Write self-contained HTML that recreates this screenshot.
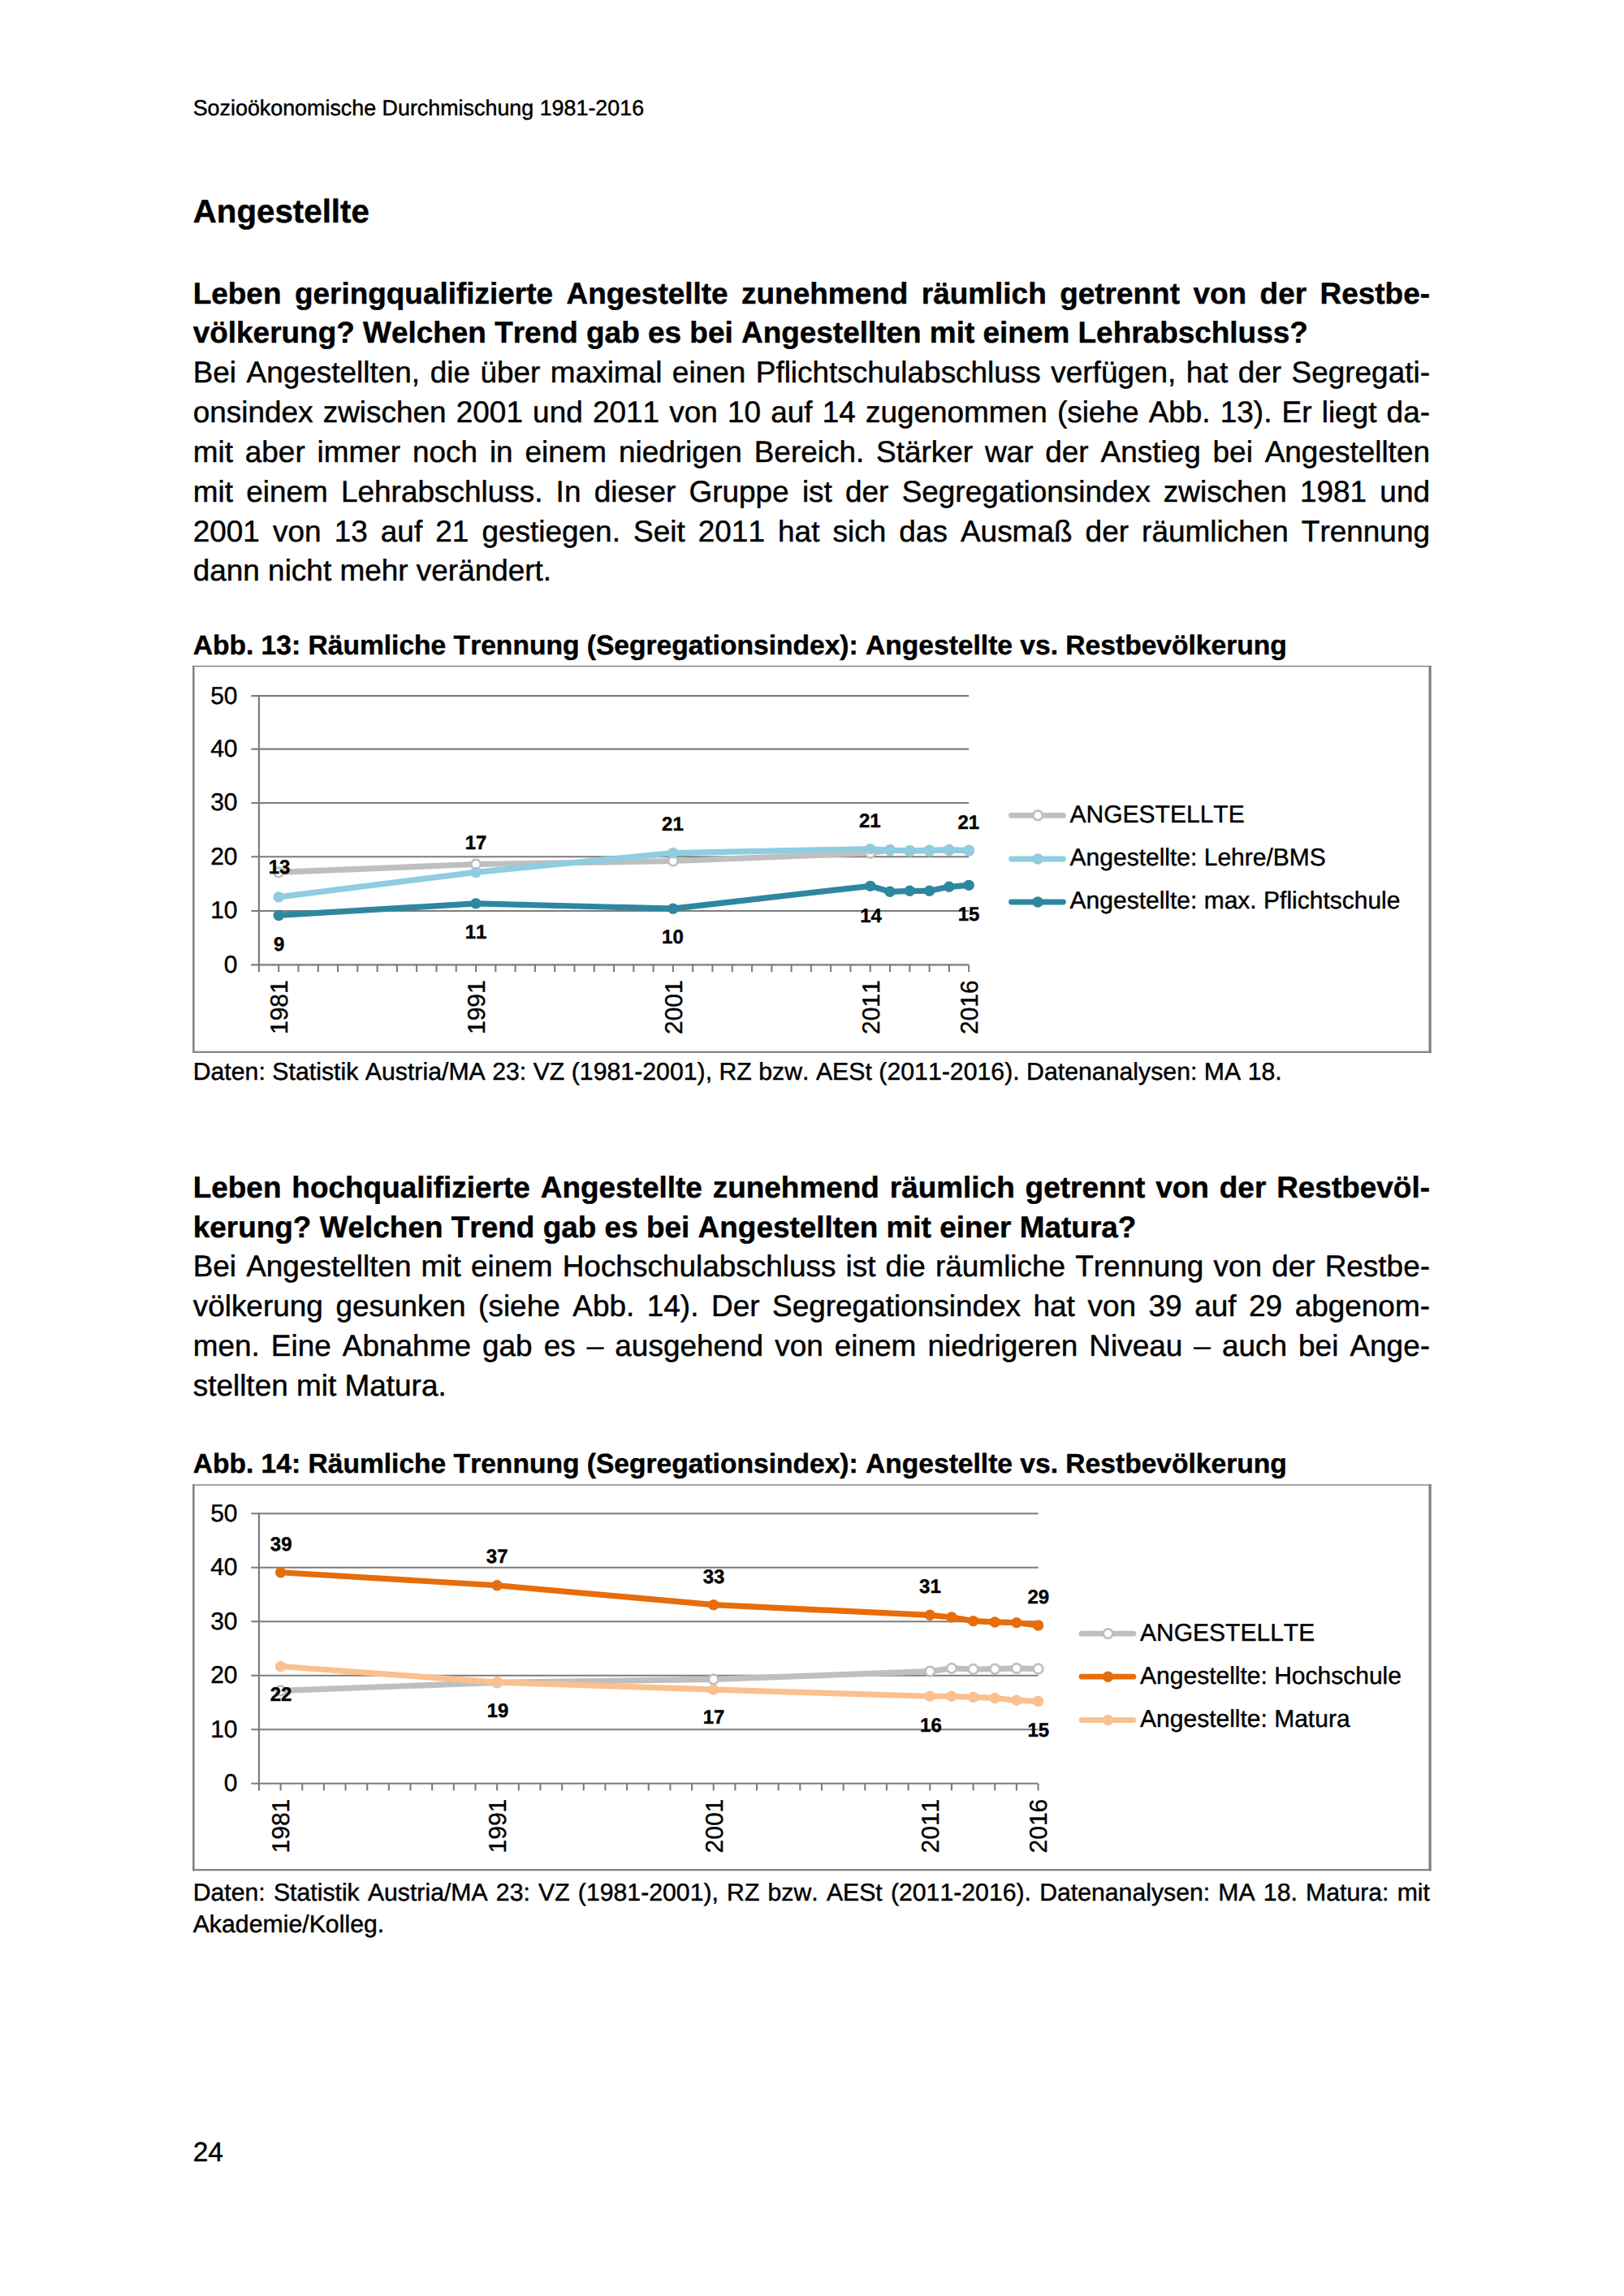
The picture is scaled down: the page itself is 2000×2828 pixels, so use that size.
<!DOCTYPE html>
<html lang="de"><head><meta charset="utf-8"><title>Sozioökonomische Durchmischung 1981-2016</title>
<style>
html,body{margin:0;padding:0;background:#fff;}
body{width:2000px;height:2828px;position:relative;overflow:hidden;
 font-family:"Liberation Sans",sans-serif;color:#000;font-kerning:none;font-variant-ligatures:none;text-rendering:geometricPrecision;-webkit-text-stroke:0.45px #000;}
header,main,section,figure,figcaption,footer,h1,h2,p{margin:0;padding:0;font-size:0;font-weight:normal;}
.l{display:block;position:absolute;left:237.70px;width:1523.30px;white-space:nowrap;margin:0;}
.j{text-align:justify;text-align-last:justify;white-space:normal;}
.b{font-weight:bold;}
svg{position:absolute;overflow:visible;}
svg text{font-family:"Liberation Sans",sans-serif;fill:#000;stroke:#000;stroke-width:0.4px;-webkit-text-stroke:0;font-kerning:none;font-variant-ligatures:none;}
.ax{font-size:30px;}
.dl{font-size:24px;font-weight:bold;text-anchor:middle;}
.lg{font-size:30px;}
</style></head><body>
<header><span class="l" style="top:117.000px;font-size:26.878px;line-height:32px;">Sozioökonomische Durchmischung 1981-2016</span></header>
<main>
<h1><span class="l b" style="top:237.000px;font-size:40.317px;line-height:48px;">Angestellte</span></h1>
<section>
<h2>
<span class="l b j" style="top:340.000px;font-size:36.958px;line-height:44px;">Leben geringqualifizierte Angestellte zunehmend räumlich getrennt von der Restbe-</span>
<span class="l b" style="top:388.000px;font-size:36.958px;line-height:44px;">völkerung? Welchen Trend gab es bei Angestellten mit einem Lehrabschluss?</span>
</h2>
<p>
<span class="l j" style="top:437.000px;font-size:36.958px;line-height:44px;">Bei Angestellten, die über maximal einen Pflichtschulabschluss verfügen, hat der Segregati-</span>
<span class="l j" style="top:486.000px;font-size:36.958px;line-height:44px;">onsindex zwischen 2001 und 2011 von 10 auf 14 zugenommen (siehe Abb. 13). Er liegt da-</span>
<span class="l j" style="top:535.000px;font-size:36.958px;line-height:44px;">mit aber immer noch in einem niedrigen Bereich. Stärker war der Anstieg bei Angestellten</span>
<span class="l j" style="top:584.000px;font-size:36.958px;line-height:44px;">mit einem Lehrabschluss. In dieser Gruppe ist der Segregationsindex zwischen 1981 und</span>
<span class="l j" style="top:633.000px;font-size:36.958px;line-height:44px;">2001 von 13 auf 21 gestiegen. Seit 2011 hat sich das Ausmaß der räumlichen Trennung</span>
<span class="l" style="top:681.000px;font-size:36.958px;line-height:44px;">dann nicht mehr verändert.</span>
</p>
<figure>
<figcaption><span class="l b" style="top:776.000px;font-size:33.598px;line-height:40px;">Abb. 13: Räumliche Trennung (Segregationsindex): Angestellte vs. Restbevölkerung</span></figcaption>
<svg role="img" aria-label="Abb. 13 Liniendiagramm" width="1540" height="490" viewBox="230 814 1540 490" style="left:230px;top:814px">
<rect x="237.1" y="819.90" width="1525.6" height="1.4" fill="#808080"/>
<rect x="237.1" y="819.90" width="2.5" height="477.00" fill="#808080"/>
<rect x="1759.5" y="819.90" width="3.2" height="477.00" fill="#808080"/>
<rect x="237.1" y="1294.70" width="1525.6" height="2.2" fill="#808080"/>
<line x1="309.31" y1="1188.40" x2="1193.17" y2="1188.40" stroke="#7C7C7C" stroke-width="2.1"/>
<text class="ax" x="292.5" y="1197.80" text-anchor="end">0</text>
<line x1="309.31" y1="1122.00" x2="1193.17" y2="1122.00" stroke="#7C7C7C" stroke-width="2.1"/>
<text class="ax" x="292.5" y="1131.40" text-anchor="end">10</text>
<line x1="309.31" y1="1055.20" x2="1193.17" y2="1055.20" stroke="#7C7C7C" stroke-width="2.1"/>
<text class="ax" x="292.5" y="1064.60" text-anchor="end">20</text>
<line x1="309.31" y1="989.00" x2="1193.17" y2="989.00" stroke="#7C7C7C" stroke-width="2.1"/>
<text class="ax" x="292.5" y="998.40" text-anchor="end">30</text>
<line x1="309.31" y1="922.60" x2="1193.17" y2="922.60" stroke="#7C7C7C" stroke-width="2.1"/>
<text class="ax" x="292.5" y="932.00" text-anchor="end">40</text>
<line x1="309.31" y1="857.10" x2="1193.17" y2="857.10" stroke="#7C7C7C" stroke-width="2.1"/>
<text class="ax" x="292.5" y="866.50" text-anchor="end">50</text>
<line x1="318.91" y1="856.10" x2="318.91" y2="1197.00" stroke="#7C7C7C" stroke-width="2.2"/>
<line x1="343.20" y1="1188.40" x2="343.20" y2="1197.00" stroke="#7C7C7C" stroke-width="2.1"/>
<line x1="367.49" y1="1188.40" x2="367.49" y2="1197.00" stroke="#7C7C7C" stroke-width="2.1"/>
<line x1="391.77" y1="1188.40" x2="391.77" y2="1197.00" stroke="#7C7C7C" stroke-width="2.1"/>
<line x1="416.06" y1="1188.40" x2="416.06" y2="1197.00" stroke="#7C7C7C" stroke-width="2.1"/>
<line x1="440.34" y1="1188.40" x2="440.34" y2="1197.00" stroke="#7C7C7C" stroke-width="2.1"/>
<line x1="464.62" y1="1188.40" x2="464.62" y2="1197.00" stroke="#7C7C7C" stroke-width="2.1"/>
<line x1="488.91" y1="1188.40" x2="488.91" y2="1197.00" stroke="#7C7C7C" stroke-width="2.1"/>
<line x1="513.19" y1="1188.40" x2="513.19" y2="1197.00" stroke="#7C7C7C" stroke-width="2.1"/>
<line x1="537.48" y1="1188.40" x2="537.48" y2="1197.00" stroke="#7C7C7C" stroke-width="2.1"/>
<line x1="561.76" y1="1188.40" x2="561.76" y2="1197.00" stroke="#7C7C7C" stroke-width="2.1"/>
<line x1="586.05" y1="1188.40" x2="586.05" y2="1197.00" stroke="#7C7C7C" stroke-width="2.1"/>
<line x1="610.34" y1="1188.40" x2="610.34" y2="1197.00" stroke="#7C7C7C" stroke-width="2.1"/>
<line x1="634.62" y1="1188.40" x2="634.62" y2="1197.00" stroke="#7C7C7C" stroke-width="2.1"/>
<line x1="658.90" y1="1188.40" x2="658.90" y2="1197.00" stroke="#7C7C7C" stroke-width="2.1"/>
<line x1="683.19" y1="1188.40" x2="683.19" y2="1197.00" stroke="#7C7C7C" stroke-width="2.1"/>
<line x1="707.47" y1="1188.40" x2="707.47" y2="1197.00" stroke="#7C7C7C" stroke-width="2.1"/>
<line x1="731.76" y1="1188.40" x2="731.76" y2="1197.00" stroke="#7C7C7C" stroke-width="2.1"/>
<line x1="756.05" y1="1188.40" x2="756.05" y2="1197.00" stroke="#7C7C7C" stroke-width="2.1"/>
<line x1="780.33" y1="1188.40" x2="780.33" y2="1197.00" stroke="#7C7C7C" stroke-width="2.1"/>
<line x1="804.62" y1="1188.40" x2="804.62" y2="1197.00" stroke="#7C7C7C" stroke-width="2.1"/>
<line x1="828.90" y1="1188.40" x2="828.90" y2="1197.00" stroke="#7C7C7C" stroke-width="2.1"/>
<line x1="853.18" y1="1188.40" x2="853.18" y2="1197.00" stroke="#7C7C7C" stroke-width="2.1"/>
<line x1="877.47" y1="1188.40" x2="877.47" y2="1197.00" stroke="#7C7C7C" stroke-width="2.1"/>
<line x1="901.75" y1="1188.40" x2="901.75" y2="1197.00" stroke="#7C7C7C" stroke-width="2.1"/>
<line x1="926.04" y1="1188.40" x2="926.04" y2="1197.00" stroke="#7C7C7C" stroke-width="2.1"/>
<line x1="950.33" y1="1188.40" x2="950.33" y2="1197.00" stroke="#7C7C7C" stroke-width="2.1"/>
<line x1="974.61" y1="1188.40" x2="974.61" y2="1197.00" stroke="#7C7C7C" stroke-width="2.1"/>
<line x1="998.89" y1="1188.40" x2="998.89" y2="1197.00" stroke="#7C7C7C" stroke-width="2.1"/>
<line x1="1023.18" y1="1188.40" x2="1023.18" y2="1197.00" stroke="#7C7C7C" stroke-width="2.1"/>
<line x1="1047.46" y1="1188.40" x2="1047.46" y2="1197.00" stroke="#7C7C7C" stroke-width="2.1"/>
<line x1="1071.75" y1="1188.40" x2="1071.75" y2="1197.00" stroke="#7C7C7C" stroke-width="2.1"/>
<line x1="1096.04" y1="1188.40" x2="1096.04" y2="1197.00" stroke="#7C7C7C" stroke-width="2.1"/>
<line x1="1120.32" y1="1188.40" x2="1120.32" y2="1197.00" stroke="#7C7C7C" stroke-width="2.1"/>
<line x1="1144.61" y1="1188.40" x2="1144.61" y2="1197.00" stroke="#7C7C7C" stroke-width="2.1"/>
<line x1="1168.89" y1="1188.40" x2="1168.89" y2="1197.00" stroke="#7C7C7C" stroke-width="2.1"/>
<line x1="1193.17" y1="1188.40" x2="1193.17" y2="1197.00" stroke="#7C7C7C" stroke-width="2.1"/>
<text class="ax" text-anchor="end" transform="translate(354.00 1207.30) rotate(-90)">1981</text>
<text class="ax" text-anchor="end" transform="translate(596.85 1207.30) rotate(-90)">1991</text>
<text class="ax" text-anchor="end" transform="translate(839.70 1207.30) rotate(-90)">2001</text>
<text class="ax" text-anchor="end" transform="translate(1082.55 1207.30) rotate(-90)">2011</text>
<text class="ax" text-anchor="end" transform="translate(1203.97 1207.30) rotate(-90)">2016</text>
<polyline points="343.20,1074.43 586.05,1064.49 828.90,1060.52 1071.75,1050.71 1096.04,1047.00 1120.32,1048.13 1144.61,1047.80 1168.89,1047.00 1193.17,1047.60" fill="none" stroke="#BFBFBF" stroke-width="7.2" stroke-linejoin="round" stroke-linecap="round"/>
<circle cx="343.20" cy="1074.43" r="5.8" fill="#fff" stroke="#BFBFBF" stroke-width="2.7"/>
<circle cx="586.05" cy="1064.49" r="5.8" fill="#fff" stroke="#BFBFBF" stroke-width="2.7"/>
<circle cx="828.90" cy="1060.52" r="5.8" fill="#fff" stroke="#BFBFBF" stroke-width="2.7"/>
<circle cx="1071.75" cy="1050.71" r="5.8" fill="#fff" stroke="#BFBFBF" stroke-width="2.7"/>
<circle cx="1096.04" cy="1047.00" r="5.8" fill="#fff" stroke="#BFBFBF" stroke-width="2.7"/>
<circle cx="1120.32" cy="1048.13" r="5.8" fill="#fff" stroke="#BFBFBF" stroke-width="2.7"/>
<circle cx="1144.61" cy="1047.80" r="5.8" fill="#fff" stroke="#BFBFBF" stroke-width="2.7"/>
<circle cx="1168.89" cy="1047.00" r="5.8" fill="#fff" stroke="#BFBFBF" stroke-width="2.7"/>
<circle cx="1193.17" cy="1047.60" r="5.8" fill="#fff" stroke="#BFBFBF" stroke-width="2.7"/>
<polyline points="343.20,1104.91 586.05,1074.43 828.90,1050.58 1071.75,1045.61 1096.04,1047.27 1120.32,1047.60 1144.61,1047.27 1168.89,1046.60 1193.17,1047.60" fill="none" stroke="#8FCDDF" stroke-width="7.2" stroke-linejoin="round" stroke-linecap="round"/>
<circle cx="343.20" cy="1104.91" r="6.7" fill="#8FCDDF"/>
<circle cx="586.05" cy="1074.43" r="6.7" fill="#8FCDDF"/>
<circle cx="828.90" cy="1050.58" r="6.7" fill="#8FCDDF"/>
<circle cx="1071.75" cy="1045.61" r="6.7" fill="#8FCDDF"/>
<circle cx="1096.04" cy="1047.27" r="6.7" fill="#8FCDDF"/>
<circle cx="1120.32" cy="1047.60" r="6.7" fill="#8FCDDF"/>
<circle cx="1144.61" cy="1047.27" r="6.7" fill="#8FCDDF"/>
<circle cx="1168.89" cy="1046.60" r="6.7" fill="#8FCDDF"/>
<circle cx="1193.17" cy="1047.60" r="6.7" fill="#8FCDDF"/>
<polyline points="343.20,1127.44 586.05,1112.86 828.90,1119.16 1071.75,1091.33 1096.04,1098.29 1120.32,1097.29 1144.61,1097.29 1168.89,1092.32 1193.17,1090.34" fill="none" stroke="#2E879E" stroke-width="7.2" stroke-linejoin="round" stroke-linecap="round"/>
<circle cx="343.20" cy="1127.44" r="6.7" fill="#2E879E"/>
<circle cx="586.05" cy="1112.86" r="6.7" fill="#2E879E"/>
<circle cx="828.90" cy="1119.16" r="6.7" fill="#2E879E"/>
<circle cx="1071.75" cy="1091.33" r="6.7" fill="#2E879E"/>
<circle cx="1096.04" cy="1098.29" r="6.7" fill="#2E879E"/>
<circle cx="1120.32" cy="1097.29" r="6.7" fill="#2E879E"/>
<circle cx="1144.61" cy="1097.29" r="6.7" fill="#2E879E"/>
<circle cx="1168.89" cy="1092.32" r="6.7" fill="#2E879E"/>
<circle cx="1193.17" cy="1090.34" r="6.7" fill="#2E879E"/>
<text class="dl" x="344.00" y="1076.00">13</text>
<text class="dl" x="586.00" y="1046.20">17</text>
<text class="dl" x="828.40" y="1023.00">21</text>
<text class="dl" x="1071.30" y="1018.50">21</text>
<text class="dl" x="1192.80" y="1021.00">21</text>
<text class="dl" x="343.60" y="1171.00">9</text>
<text class="dl" x="586.00" y="1156.40">11</text>
<text class="dl" x="828.40" y="1162.30">10</text>
<text class="dl" x="1072.50" y="1136.00">14</text>
<text class="dl" x="1193.00" y="1134.00">15</text>
<line x1="1245.50" y1="1004.40" x2="1309.40" y2="1004.40" stroke="#BFBFBF" stroke-width="6.8" stroke-linecap="round"/>
<circle cx="1278.10" cy="1004.40" r="5.8" fill="#fff" stroke="#BFBFBF" stroke-width="2.7"/>
<text class="lg" x="1317.60" y="1012.80">ANGESTELLTE</text>
<line x1="1245.50" y1="1058.00" x2="1309.40" y2="1058.00" stroke="#8FCDDF" stroke-width="6.8" stroke-linecap="round"/>
<circle cx="1278.10" cy="1058.00" r="6.7" fill="#8FCDDF"/>
<text class="lg" x="1317.60" y="1066.40">Angestellte: Lehre/BMS</text>
<line x1="1245.50" y1="1111.00" x2="1309.40" y2="1111.00" stroke="#2E879E" stroke-width="6.8" stroke-linecap="round"/>
<circle cx="1278.10" cy="1111.00" r="6.7" fill="#2E879E"/>
<text class="lg" x="1317.60" y="1119.40">Angestellte: max. Pflichtschule</text>
</svg>
<p class="src"><span class="l" style="top:1303.000px;font-size:30.238px;line-height:36px;letter-spacing:0.025px;">Daten: Statistik Austria/MA 23: VZ (1981-2001), RZ bzw. AESt (2011-2016). Datenanalysen: MA 18.</span></p>
</figure>
</section>
<section>
<h2>
<span class="l b j" style="top:1441.000px;font-size:36.958px;line-height:44px;">Leben hochqualifizierte Angestellte zunehmend räumlich getrennt von der Restbevöl-</span>
<span class="l b" style="top:1490.000px;font-size:36.958px;line-height:44px;">kerung? Welchen Trend gab es bei Angestellten mit einer Matura?</span>
</h2>
<p>
<span class="l j" style="top:1538.000px;font-size:36.958px;line-height:44px;">Bei Angestellten mit einem Hochschulabschluss ist die räumliche Trennung von der Restbe-</span>
<span class="l j" style="top:1587.000px;font-size:36.958px;line-height:44px;">völkerung gesunken (siehe Abb. 14). Der Segregationsindex hat von 39 auf 29 abgenom-</span>
<span class="l j" style="top:1636.000px;font-size:36.958px;line-height:44px;">men. Eine Abnahme gab es – ausgehend von einem niedrigeren Niveau – auch bei Ange-</span>
<span class="l" style="top:1685.000px;font-size:36.958px;line-height:44px;">stellten mit Matura.</span>
</p>
<figure>
<figcaption><span class="l b" style="top:1784.000px;font-size:33.598px;line-height:40px;">Abb. 14: Räumliche Trennung (Segregationsindex): Angestellte vs. Restbevölkerung</span></figcaption>
<svg role="img" aria-label="Abb. 14 Liniendiagramm" width="1540" height="490" viewBox="230 1822 1540 490" style="left:230px;top:1822px">
<rect x="237.1" y="1828.30" width="1525.6" height="1.4" fill="#808080"/>
<rect x="237.1" y="1828.30" width="2.5" height="476.00" fill="#808080"/>
<rect x="1759.5" y="1828.30" width="3.2" height="476.00" fill="#808080"/>
<rect x="237.1" y="2302.10" width="1525.6" height="2.2" fill="#808080"/>
<line x1="309.34" y1="2196.80" x2="1278.56" y2="2196.80" stroke="#7C7C7C" stroke-width="2.1"/>
<text class="ax" x="292.5" y="2206.20" text-anchor="end">0</text>
<line x1="309.34" y1="2130.30" x2="1278.56" y2="2130.30" stroke="#7C7C7C" stroke-width="2.1"/>
<text class="ax" x="292.5" y="2139.70" text-anchor="end">10</text>
<line x1="309.34" y1="2063.80" x2="1278.56" y2="2063.80" stroke="#7C7C7C" stroke-width="2.1"/>
<text class="ax" x="292.5" y="2073.20" text-anchor="end">20</text>
<line x1="309.34" y1="1997.30" x2="1278.56" y2="1997.30" stroke="#7C7C7C" stroke-width="2.1"/>
<text class="ax" x="292.5" y="2006.70" text-anchor="end">30</text>
<line x1="309.34" y1="1930.80" x2="1278.56" y2="1930.80" stroke="#7C7C7C" stroke-width="2.1"/>
<text class="ax" x="292.5" y="1940.20" text-anchor="end">40</text>
<line x1="309.34" y1="1864.30" x2="1278.56" y2="1864.30" stroke="#7C7C7C" stroke-width="2.1"/>
<text class="ax" x="292.5" y="1873.70" text-anchor="end">50</text>
<line x1="318.94" y1="1863.30" x2="318.94" y2="2205.40" stroke="#7C7C7C" stroke-width="2.2"/>
<line x1="345.60" y1="2196.80" x2="345.60" y2="2205.40" stroke="#7C7C7C" stroke-width="2.1"/>
<line x1="372.26" y1="2196.80" x2="372.26" y2="2205.40" stroke="#7C7C7C" stroke-width="2.1"/>
<line x1="398.91" y1="2196.80" x2="398.91" y2="2205.40" stroke="#7C7C7C" stroke-width="2.1"/>
<line x1="425.57" y1="2196.80" x2="425.57" y2="2205.40" stroke="#7C7C7C" stroke-width="2.1"/>
<line x1="452.22" y1="2196.80" x2="452.22" y2="2205.40" stroke="#7C7C7C" stroke-width="2.1"/>
<line x1="478.88" y1="2196.80" x2="478.88" y2="2205.40" stroke="#7C7C7C" stroke-width="2.1"/>
<line x1="505.54" y1="2196.80" x2="505.54" y2="2205.40" stroke="#7C7C7C" stroke-width="2.1"/>
<line x1="532.19" y1="2196.80" x2="532.19" y2="2205.40" stroke="#7C7C7C" stroke-width="2.1"/>
<line x1="558.85" y1="2196.80" x2="558.85" y2="2205.40" stroke="#7C7C7C" stroke-width="2.1"/>
<line x1="585.50" y1="2196.80" x2="585.50" y2="2205.40" stroke="#7C7C7C" stroke-width="2.1"/>
<line x1="612.16" y1="2196.80" x2="612.16" y2="2205.40" stroke="#7C7C7C" stroke-width="2.1"/>
<line x1="638.82" y1="2196.80" x2="638.82" y2="2205.40" stroke="#7C7C7C" stroke-width="2.1"/>
<line x1="665.47" y1="2196.80" x2="665.47" y2="2205.40" stroke="#7C7C7C" stroke-width="2.1"/>
<line x1="692.13" y1="2196.80" x2="692.13" y2="2205.40" stroke="#7C7C7C" stroke-width="2.1"/>
<line x1="718.78" y1="2196.80" x2="718.78" y2="2205.40" stroke="#7C7C7C" stroke-width="2.1"/>
<line x1="745.44" y1="2196.80" x2="745.44" y2="2205.40" stroke="#7C7C7C" stroke-width="2.1"/>
<line x1="772.10" y1="2196.80" x2="772.10" y2="2205.40" stroke="#7C7C7C" stroke-width="2.1"/>
<line x1="798.75" y1="2196.80" x2="798.75" y2="2205.40" stroke="#7C7C7C" stroke-width="2.1"/>
<line x1="825.41" y1="2196.80" x2="825.41" y2="2205.40" stroke="#7C7C7C" stroke-width="2.1"/>
<line x1="852.06" y1="2196.80" x2="852.06" y2="2205.40" stroke="#7C7C7C" stroke-width="2.1"/>
<line x1="878.72" y1="2196.80" x2="878.72" y2="2205.40" stroke="#7C7C7C" stroke-width="2.1"/>
<line x1="905.38" y1="2196.80" x2="905.38" y2="2205.40" stroke="#7C7C7C" stroke-width="2.1"/>
<line x1="932.03" y1="2196.80" x2="932.03" y2="2205.40" stroke="#7C7C7C" stroke-width="2.1"/>
<line x1="958.69" y1="2196.80" x2="958.69" y2="2205.40" stroke="#7C7C7C" stroke-width="2.1"/>
<line x1="985.34" y1="2196.80" x2="985.34" y2="2205.40" stroke="#7C7C7C" stroke-width="2.1"/>
<line x1="1012.00" y1="2196.80" x2="1012.00" y2="2205.40" stroke="#7C7C7C" stroke-width="2.1"/>
<line x1="1038.66" y1="2196.80" x2="1038.66" y2="2205.40" stroke="#7C7C7C" stroke-width="2.1"/>
<line x1="1065.31" y1="2196.80" x2="1065.31" y2="2205.40" stroke="#7C7C7C" stroke-width="2.1"/>
<line x1="1091.97" y1="2196.80" x2="1091.97" y2="2205.40" stroke="#7C7C7C" stroke-width="2.1"/>
<line x1="1118.62" y1="2196.80" x2="1118.62" y2="2205.40" stroke="#7C7C7C" stroke-width="2.1"/>
<line x1="1145.28" y1="2196.80" x2="1145.28" y2="2205.40" stroke="#7C7C7C" stroke-width="2.1"/>
<line x1="1171.94" y1="2196.80" x2="1171.94" y2="2205.40" stroke="#7C7C7C" stroke-width="2.1"/>
<line x1="1198.59" y1="2196.80" x2="1198.59" y2="2205.40" stroke="#7C7C7C" stroke-width="2.1"/>
<line x1="1225.25" y1="2196.80" x2="1225.25" y2="2205.40" stroke="#7C7C7C" stroke-width="2.1"/>
<line x1="1251.90" y1="2196.80" x2="1251.90" y2="2205.40" stroke="#7C7C7C" stroke-width="2.1"/>
<line x1="1278.56" y1="2196.80" x2="1278.56" y2="2205.40" stroke="#7C7C7C" stroke-width="2.1"/>
<text class="ax" text-anchor="end" transform="translate(356.40 2215.70) rotate(-90)">1981</text>
<text class="ax" text-anchor="end" transform="translate(622.96 2215.70) rotate(-90)">1991</text>
<text class="ax" text-anchor="end" transform="translate(889.52 2215.70) rotate(-90)">2001</text>
<text class="ax" text-anchor="end" transform="translate(1156.08 2215.70) rotate(-90)">2011</text>
<text class="ax" text-anchor="end" transform="translate(1289.36 2215.70) rotate(-90)">2016</text>
<polyline points="345.60,2082.42 612.16,2072.45 878.72,2068.45 1145.28,2058.61 1171.94,2054.89 1198.59,2056.02 1225.25,2055.69 1251.90,2054.89 1278.56,2055.49" fill="none" stroke="#BFBFBF" stroke-width="7.2" stroke-linejoin="round" stroke-linecap="round"/>
<circle cx="345.60" cy="2082.42" r="5.8" fill="#fff" stroke="#BFBFBF" stroke-width="2.7"/>
<circle cx="612.16" cy="2072.45" r="5.8" fill="#fff" stroke="#BFBFBF" stroke-width="2.7"/>
<circle cx="878.72" cy="2068.45" r="5.8" fill="#fff" stroke="#BFBFBF" stroke-width="2.7"/>
<circle cx="1145.28" cy="2058.61" r="5.8" fill="#fff" stroke="#BFBFBF" stroke-width="2.7"/>
<circle cx="1171.94" cy="2054.89" r="5.8" fill="#fff" stroke="#BFBFBF" stroke-width="2.7"/>
<circle cx="1198.59" cy="2056.02" r="5.8" fill="#fff" stroke="#BFBFBF" stroke-width="2.7"/>
<circle cx="1225.25" cy="2055.69" r="5.8" fill="#fff" stroke="#BFBFBF" stroke-width="2.7"/>
<circle cx="1251.90" cy="2054.89" r="5.8" fill="#fff" stroke="#BFBFBF" stroke-width="2.7"/>
<circle cx="1278.56" cy="2055.49" r="5.8" fill="#fff" stroke="#BFBFBF" stroke-width="2.7"/>
<polyline points="345.60,1936.78 612.16,1952.74 878.72,1976.68 1145.28,1989.32 1171.94,1991.98 1198.59,1996.63 1225.25,1997.97 1251.90,1998.63 1278.56,2001.95" fill="none" stroke="#E66D0A" stroke-width="7.2" stroke-linejoin="round" stroke-linecap="round"/>
<circle cx="345.60" cy="1936.78" r="6.7" fill="#E66D0A"/>
<circle cx="612.16" cy="1952.74" r="6.7" fill="#E66D0A"/>
<circle cx="878.72" cy="1976.68" r="6.7" fill="#E66D0A"/>
<circle cx="1145.28" cy="1989.32" r="6.7" fill="#E66D0A"/>
<circle cx="1171.94" cy="1991.98" r="6.7" fill="#E66D0A"/>
<circle cx="1198.59" cy="1996.63" r="6.7" fill="#E66D0A"/>
<circle cx="1225.25" cy="1997.97" r="6.7" fill="#E66D0A"/>
<circle cx="1251.90" cy="1998.63" r="6.7" fill="#E66D0A"/>
<circle cx="1278.56" cy="2001.95" r="6.7" fill="#E66D0A"/>
<polyline points="345.60,2052.49 612.16,2072.11 878.72,2081.09 1145.28,2089.27 1171.94,2089.27 1198.59,2090.40 1225.25,2091.53 1251.90,2094.32 1278.56,2095.39" fill="none" stroke="#FAC08F" stroke-width="7.2" stroke-linejoin="round" stroke-linecap="round"/>
<circle cx="345.60" cy="2052.49" r="6.7" fill="#FAC08F"/>
<circle cx="612.16" cy="2072.11" r="6.7" fill="#FAC08F"/>
<circle cx="878.72" cy="2081.09" r="6.7" fill="#FAC08F"/>
<circle cx="1145.28" cy="2089.27" r="6.7" fill="#FAC08F"/>
<circle cx="1171.94" cy="2089.27" r="6.7" fill="#FAC08F"/>
<circle cx="1198.59" cy="2090.40" r="6.7" fill="#FAC08F"/>
<circle cx="1225.25" cy="2091.53" r="6.7" fill="#FAC08F"/>
<circle cx="1251.90" cy="2094.32" r="6.7" fill="#FAC08F"/>
<circle cx="1278.56" cy="2095.39" r="6.7" fill="#FAC08F"/>
<text class="dl" x="346.20" y="1909.50">39</text>
<text class="dl" x="612.20" y="1925.40">37</text>
<text class="dl" x="879.10" y="1949.50">33</text>
<text class="dl" x="1145.40" y="1961.80">31</text>
<text class="dl" x="1278.80" y="1975.20">29</text>
<text class="dl" x="346.00" y="2094.80">22</text>
<text class="dl" x="613.00" y="2114.80">19</text>
<text class="dl" x="879.00" y="2122.90">17</text>
<text class="dl" x="1146.40" y="2133.00">16</text>
<text class="dl" x="1278.80" y="2138.60">15</text>
<line x1="1332.00" y1="2012.20" x2="1395.90" y2="2012.20" stroke="#BFBFBF" stroke-width="6.8" stroke-linecap="round"/>
<circle cx="1364.60" cy="2012.20" r="5.8" fill="#fff" stroke="#BFBFBF" stroke-width="2.7"/>
<text class="lg" x="1404.10" y="2020.60">ANGESTELLTE</text>
<line x1="1332.00" y1="2065.20" x2="1395.90" y2="2065.20" stroke="#E66D0A" stroke-width="6.8" stroke-linecap="round"/>
<circle cx="1364.60" cy="2065.20" r="6.7" fill="#E66D0A"/>
<text class="lg" x="1404.10" y="2073.60">Angestellte: Hochschule</text>
<line x1="1332.00" y1="2118.60" x2="1395.90" y2="2118.60" stroke="#FAC08F" stroke-width="6.8" stroke-linecap="round"/>
<circle cx="1364.60" cy="2118.60" r="6.7" fill="#FAC08F"/>
<text class="lg" x="1404.10" y="2127.00">Angestellte: Matura</text>
</svg>
<p class="src">
<span class="l j" style="top:2314.000px;font-size:30.238px;line-height:36px;">Daten: Statistik Austria/MA 23: VZ (1981-2001), RZ bzw. AESt (2011-2016). Datenanalysen: MA 18. Matura: mit</span>
<span class="l" style="top:2353.000px;font-size:30.238px;line-height:36px;letter-spacing:0.025px;">Akademie/Kolleg.</span>
</p>
</figure>
</section>
</main>
<footer><span class="l" style="top:2632.000px;font-size:33.598px;line-height:40px;">24</span></footer>
</body></html>
